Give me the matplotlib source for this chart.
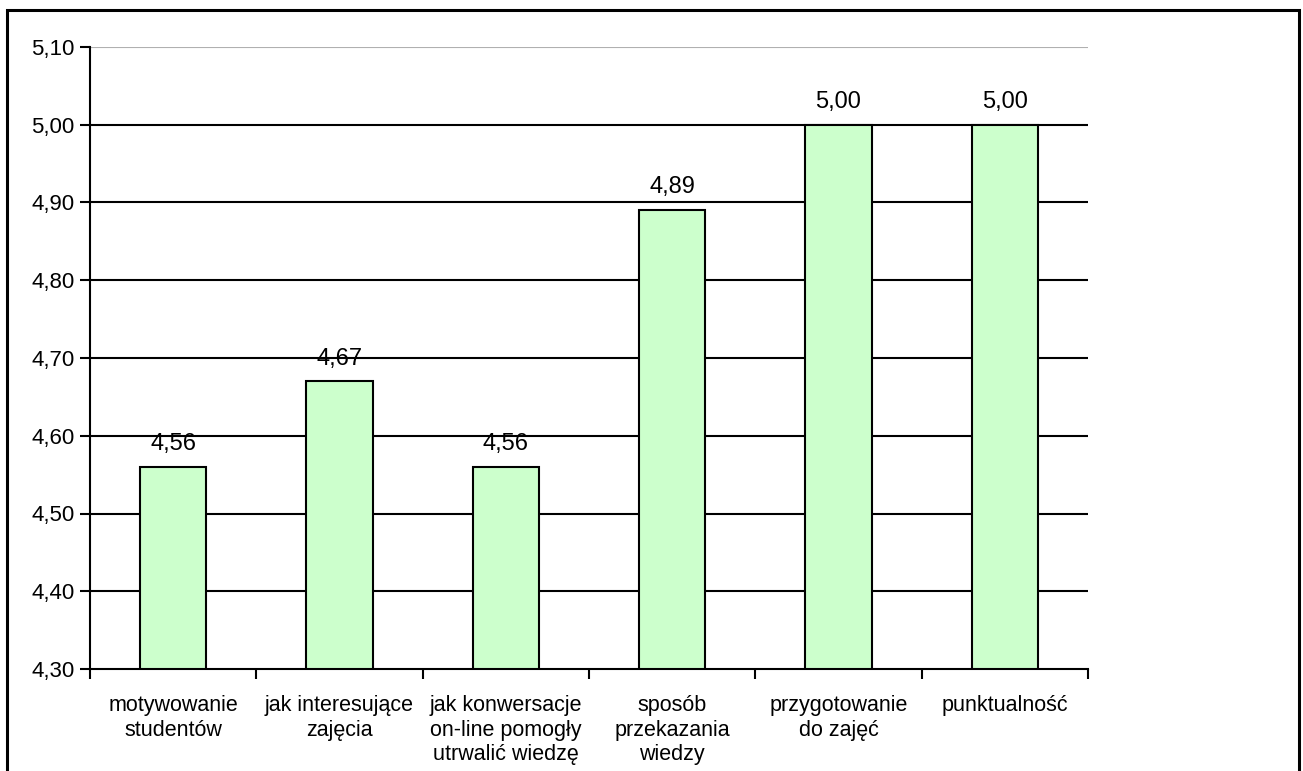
import matplotlib
matplotlib.use("Agg")
import matplotlib.pyplot as plt
from matplotlib.patches import Rectangle

categories = ["motywowanie\nstudentów", "jak interesujące\nzajęcia",
              "jak konwersacje\non-line pomogły\nutrwalić wiedzę",
              "sposób\nprzekazania\nwiedzy", "przygotowanie\ndo zajęć", "punktualność"]
values = [4.56, 4.67, 4.56, 4.89, 5.00, 5.00]
yticks = [4.30, 4.40, 4.50, 4.60, 4.70, 4.80, 4.90, 5.00, 5.10]

plt.rcParams['font.family'] = ['Liberation Sans', 'DejaVu Sans']

fig = plt.figure(figsize=(13.03, 7.71), dpi=100)
ax = fig.add_axes([90/1303, 1-669/771, (1088-90)/1303, (669-47)/771])

x = list(range(len(values)))
ax.bar(x, [v - 4.30 for v in values], bottom=4.30, width=0.4,
       color="#CCFFCC", edgecolor="black", linewidth=1.5, zorder=3)

for xi, v in zip(x, values):
    ax.annotate(f"{v:.2f}".replace(".", ","), (xi, v), xytext=(0, 8.5),
                textcoords="offset points", ha="center", va="bottom",
                fontsize=17, zorder=4)

ax.set_xlim(-0.5, len(values) - 0.5)
ax.set_ylim(4.30, 5.10)
ax.set_yticks(yticks)
ax.set_yticklabels([f"{t:.2f}".replace(".", ",") for t in yticks], fontsize=16)

for t in yticks[1:-1]:
    ax.axhline(t, color="black", linewidth=1.5, zorder=1)
ax.axhline(yticks[-1], color="#B0B0B0", linewidth=0.8, zorder=1)

ax.set_xticks([i + 0.5 for i in range(-1, len(values))], minor=False)
ax.set_xticklabels([])
ax.tick_params(axis="x", which="major", length=7, width=1.5, direction="out")
ax.set_xticks(x, minor=True)
ax.set_xticklabels(categories, minor=True, fontsize=15.5, linespacing=1.22)
ax.tick_params(axis="x", which="minor", length=0, pad=19)
ax.tick_params(axis="y", length=7, width=1.5, direction="out", pad=4)

for s in ["top", "right"]:
    ax.spines[s].set_visible(False)
for s in ["left", "bottom"]:
    ax.spines[s].set_linewidth(1.5)

fig.patches.append(Rectangle((7/1303, -0.02), (1299-7)/1303, 1.02 - 10/771,
                             transform=fig.transFigure, fill=False,
                             edgecolor="black", linewidth=2.2))

fig.savefig("out.png", dpi=100)
